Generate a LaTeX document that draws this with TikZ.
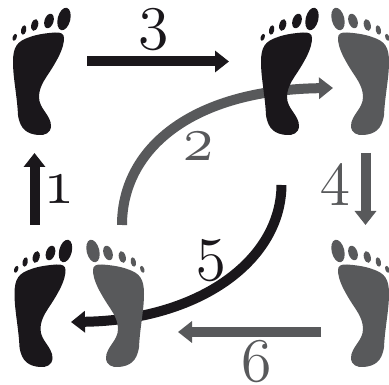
\documentclass[tikz,border=0pt]{standalone}
\usepackage{fontspec}
\usetikzlibrary{arrows.meta}
\newfontfamily\digitfont[Extension=.otf,Numbers=OldStyle]{lmroman12-regular}
\definecolor{footblack}{HTML}{1A171B}
\definecolor{footgrey}{HTML}{58595B}
\tikzset{
  foot/.pic={
    \fill (64,19) ellipse [x radius=6.3, y radius=11.5, rotate=-14];
    \fill (49,21) ellipse [x radius=4.5, y radius=7.5, rotate=-18];
    \fill (34.7,25) ellipse [x radius=3.4, y radius=6, rotate=-15];
    \fill (23.7,30) ellipse [x radius=2.6, y radius=4.8, rotate=-12];
    \fill (14.7,37.3) ellipse [x radius=2, y radius=3.6, rotate=-20];
    \fill (64,38) .. controls (64,48) and (58,58) .. (54,65)
      .. controls (47,77) and (39,85) .. (39,97)
      .. controls (39,109) and (51,115) .. (51,126)
      .. controls (51,133) and (44,136) .. (38,135)
      .. controls (28,134) and (20,130) .. (18,115)
      .. controls (17,95) and (13,78) .. (13,62)
      .. controls (13,47) and (17,41) .. (30,37)
      .. controls (38,34) and (48,33) .. (55,32.5)
      .. controls (61,32) and (64,34) .. (64,38) -- cycle;
  }
}
\begin{document}
\begin{tikzpicture}[
  x=1pt,
  y=-1pt,
  flow/.style={line width=10pt, -{Triangle[length=14pt,width=21pt]}},
  digit/.style={inner sep=0pt, font=\digitfont\fontsize{62}{62}\selectfont}
]
\useasboundingbox (0,0) rectangle (389,385);

% free ends of the arrows
\coordinate (oneStart) at (34.5,225);
\coordinate (oneEnd) at (34.5,153);
\coordinate (twoStart) at (122,225);
\coordinate (twoEnd) at (333,88);
\coordinate (threeStart) at (87,61.5);
\coordinate (threeEnd) at (229,61.5);
\coordinate (fourStart) at (365.5,153);
\coordinate (fourEnd) at (365.5,225);
\coordinate (fiveStart) at (281.5,185);
\coordinate (fiveEnd) at (71,322);
\coordinate (sixStart) at (321,332);
\coordinate (sixEnd) at (178,332);

% arrows under the feet
\draw[flow, footgrey] (twoStart) .. controls (122,150) and (190,90) .. (twoEnd);
\draw[flow, footblack] (fiveStart) .. controls (281,260) and (200,320) .. (fiveEnd);

% feet
\pic[footblack] at (0,0) {foot};
\pic[footblack] at (248,0) {foot};
\pic[footgrey, xscale=-1] at (402,0) {foot};
\pic[footblack] at (1.5,232) {foot};
\pic[footgrey, xscale=-1] at (157,232) {foot};
\pic[footgrey, xscale=-1] at (402,232) {foot};

% straight arrows
\draw[flow, footblack] (oneStart) -- (oneEnd);
\draw[flow, footblack] (threeStart) -- (threeEnd);
\draw[flow, footgrey] (fourStart) -- (fourEnd);
\draw[flow, footgrey] (sixStart) -- (sixEnd);

% labels
\node[digit, footblack] (labelOne) at (59.5,188.5) {1};
\node[digit, footgrey] (labelTwo) at (198,145.5) {2};
\node[digit, footblack] (labelThree) at (153.5,29.5) {3};
\node[digit, footgrey] (labelFour) at (335.5,185) {4};
\node[digit, footblack] (labelFive) at (211,261) {5};
\node[digit, footgrey] (labelSix) at (256.5,362) {6};
\end{tikzpicture}
\end{document}
